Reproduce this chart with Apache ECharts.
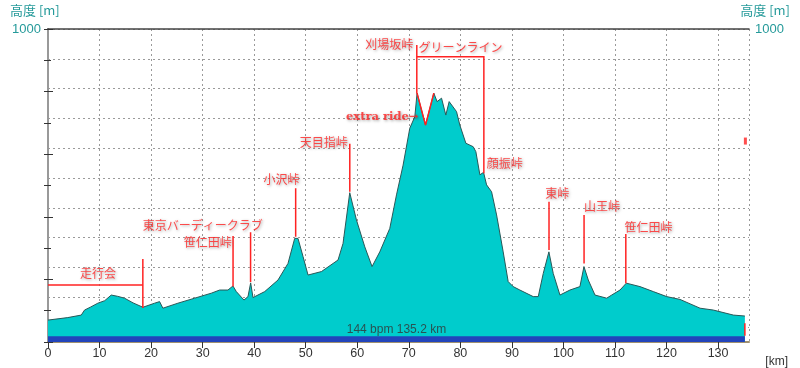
<!DOCTYPE html>
<html><head><meta charset="utf-8">
<script src="https://cdn.jsdelivr.net/npm/echarts@6/dist/echarts.min.js"></script>
<style>html,body{margin:0;padding:0;background:#fff}#c{width:800px;height:368px}</style>
</head><body><div id="c"></div>
<script>
// distance along route [km]
const distKm = [0, 3.84, 6.45, 7.09, 8.3, 9.67, 11.0, 12.27, 13.5, 14.85, 16.5, 18.41, 20.68, 21.65, 22.29, 25.2, 28.45, 31.69, 33.3, 34.91, 35.88, 36.54, 38.02, 38.8, 39.32, 39.77, 42.04, 44.62, 46.56, 47.86, 48.5, 49.48, 50.45, 53.05, 56.27, 57.24, 58.54, 59.84, 61.46, 62.87, 64.37, 66.31, 67.61, 68.89, 70.19, 71.17, 71.6, 73.24, 74.85, 75.49, 76.35, 77.18, 77.83, 79.26, 79.9, 81.07, 82.49, 83.01, 83.79, 84.5, 85.09, 86.06, 87.03, 88.31, 89.28, 90.25, 91.55, 94.14, 95.11, 96.08, 97.18, 98.02, 99.32, 101.26, 103.2, 103.98, 104.82, 106.12, 108.39, 109.36, 110.97, 112.2, 114.85, 117.44, 120.04, 122.62, 126.5, 129.09, 132.97, 135.2];
// elevation [m]
const elevM = [70, 78, 86, 102, 112, 124, 132, 150, 146, 140, 125, 111, 124, 129, 108, 124, 140, 156, 166, 166, 179, 161, 134, 145, 189, 142, 161, 198, 251, 331, 331, 273, 214, 225, 262, 315, 477, 390, 304, 241, 288, 363, 470, 565, 683, 720, 795, 693, 795, 768, 779, 725, 768, 736, 693, 635, 624, 608, 534, 542, 502, 480, 406, 288, 193, 177, 166, 145, 145, 219, 288, 219, 150, 166, 177, 241, 198, 150, 140, 150, 166, 188, 177, 161, 145, 136, 108, 102, 86, 83];
// "extra ride" segment (highlighted in red)
const extraKm = [71.6, 73.24, 74.85];
const extraM = [795, 693, 795];
// heart-rate band
const bandKm = [0, 135.2];
const bandM = [18, 18];
const bandText = '144 bpm 135.2 km';
// axis ticks / labels
const xTickStep = 10;
const xMax = 136;
const yMax = 1000;
const yLabelShown = [1000];
// annotations: label text and anchor [km, m]
const annNames = ['走行会', '東京バーディークラブ', '笹仁田峠', '小沢峠', '天目指峠', '刈場坂峠', 'グリーンライン', '顔振峠', '東峠', '山王峠', '笹仁田峠'];
const annKm = [9.7, 30.0, 31.0, 45.3, 53.5, 66.2, 80.05, 88.6, 98.8, 107.5, 116.5];
const annM = [220, 374, 319, 518, 637, 950, 942, 572, 474, 434, 366];
const extraLabel = 'extra ride→';
const extraLabelKm = 64.85, extraLabelM = 720;
// annotation leader lines (polylines in [km, m])
const annLines = [
  [[0, 182], [18.4, 182]],
  [[18.4, 265], [18.4, 109]],
  [[39.3, 351], [39.3, 192]],
  [[35.9, 339], [35.9, 177]],
  [[48.05, 491], [48.05, 336]],
  [[58.55, 633], [58.55, 480]],
  [[71.55, 949], [71.55, 795]],
  [[71.55, 911], [84.56, 911], [84.56, 539]],
  [[97.2, 448], [97.2, 294]],
  [[104.0, 406], [104.0, 251]],
  [[112.1, 345], [112.1, 188]],
  [[135.2, 60], [135.2, 20]]
];
const posMarker = [135.3, 642];

const teal = '#259a9a';
const red = '#ff2222';
const chart = echarts.init(document.getElementById('c'));
const redLabel = {
  show: true, position: 'inside', color: red, fontSize: 12,
  fontFamily: "'Noto Sans CJK JP', sans-serif",
  textShadowColor: 'rgba(0,0,0,0.45)', textShadowBlur: 3, textShadowOffsetX: 1, textShadowOffsetY: 1,
  formatter: p => p.name
};
chart.setOption({
  animation: false,
  backgroundColor: '#fff',
  grid: { left: 48, right: 51, top: 29, bottom: 26 },
  xAxis: [{
    type: 'value', min: 0, max: xMax, interval: xTickStep,
    axisLine: { show: true, onZero: false, lineStyle: { color: '#a09070', width: 2 } },
    axisTick: { show: true, length: 6, lineStyle: { color: '#333' } },
    axisLabel: { showMaxLabel: false, color: '#333', fontSize: 12.5, margin: 5,
      fontFamily: "'Liberation Sans Narrow', 'Liberation Sans', sans-serif" },
    splitLine: { show: true, lineStyle: { color: '#9a9a9a', type: [2, 3] } }
  }, {
    type: 'value', min: 0, max: xMax, position: 'top',
    axisLine: { show: true, onZero: false, lineStyle: { color: '#444', width: 1.5 } },
    axisTick: { show: false }, axisLabel: { show: false }, splitLine: { show: false }
  }],
  yAxis: [{
    type: 'value', min: 0, max: yMax, interval: 100, position: 'left',
    axisLine: { show: true, lineStyle: { color: '#444', width: 1.5 } },
    axisTick: { show: true, length: 4, lineStyle: { color: '#333' } },
    axisLabel: { color: teal, fontSize: 13, margin: 7, fontFamily: "'Liberation Sans', sans-serif",
      formatter: v => yLabelShown.includes(v) ? String(v) : '' },
    splitLine: { show: false }
  }, {
    type: 'value', min: 0, max: yMax, interval: 200, position: 'right',
    axisLine: { show: true, lineStyle: { color: '#999', width: 2 } },
    axisTick: { show: true, length: 5, lineStyle: { color: '#333' } },
    minorTick: { show: true, splitNumber: 2, length: 3, lineStyle: { color: '#333' } },
    axisLabel: { color: teal, fontSize: 13, margin: 6, fontFamily: "'Liberation Sans', sans-serif",
      formatter: v => yLabelShown.includes(v) ? String(v) : '' },
    splitLine: { show: false }
  }, {
    type: 'value', min: 0, max: 10.5, interval: 1, inverse: true, position: 'left',
    axisLine: { show: false }, axisTick: { show: false }, axisLabel: { show: false },
    splitLine: { show: true, lineStyle: { color: '#9a9a9a', type: [2, 3] } }
  }],
  graphic: [
    { type: 'text', left: 10, top: 4, style: { text: '高度 [m]', fill: teal, fontSize: 13, fontFamily: "'Noto Sans CJK JP', sans-serif" } },
    { type: 'text', right: 10, top: 4, style: { text: '高度 [m]', fill: teal, fontSize: 13, fontFamily: "'Noto Sans CJK JP', sans-serif" } },
    { type: 'text', right: 12, bottom: 0, style: { text: '[km]', fill: '#333', fontSize: 12, fontFamily: "'Liberation Sans', sans-serif" } }
  ],
  series: [{
    type: 'line', name: 'elev', xAxisIndex: 0, yAxisIndex: 0, z: 2,
    data: distKm.map((d, i) => [d, elevM[i]]),
    showSymbol: false, symbol: 'none',
    lineStyle: { color: '#2a5858', width: 1 },
    areaStyle: { color: '#00cccc', opacity: 1 }
  }, {
    type: 'line', name: 'band', z: 3,
    data: bandKm.map((d, i) => [d, bandM[i]]),
    showSymbol: false, symbol: 'none',
    lineStyle: { width: 0 },
    areaStyle: { color: '#2244bb', opacity: 1 }
  }, {
    type: 'line', name: 'extra', z: 4,
    data: extraKm.map((d, i) => [d, extraM[i]]),
    showSymbol: false, symbol: 'none',
    lineStyle: { color: red, width: 1.5 }
  }, {
    type: 'lines', coordinateSystem: 'cartesian2d', polyline: true, z: 5,
    lineStyle: { color: red, width: 1.5, opacity: 1 },
    data: annLines.map(c => ({ coords: c }))
  }, {
    type: 'scatter', z: 6, symbolSize: 0,
    data: annNames.map((n, i) => ({ name: n, value: [annKm[i], annM[i]] })),
    label: redLabel
  }, {
    type: 'scatter', z: 6, symbolSize: 0,
    data: [{ name: extraLabel, value: [extraLabelKm, extraLabelM] }],
    label: Object.assign({}, redLabel, { fontSize: 11.5, fontWeight: 'bold', fontFamily: "'DejaVu Serif', serif" })
  }, {
    type: 'scatter', z: 6, symbol: 'rect', symbolSize: [3, 7],
    itemStyle: { color: red },
    data: [posMarker]
  }, {
    type: 'scatter', z: 6, symbolSize: 0,
    data: [{ name: bandText, value: [67.6, 38] }],
    label: { show: true, position: 'inside', color: '#333', fontSize: 12,
      fontFamily: "'Liberation Sans', sans-serif", formatter: p => p.name }
  }]
});
</script></body></html>
